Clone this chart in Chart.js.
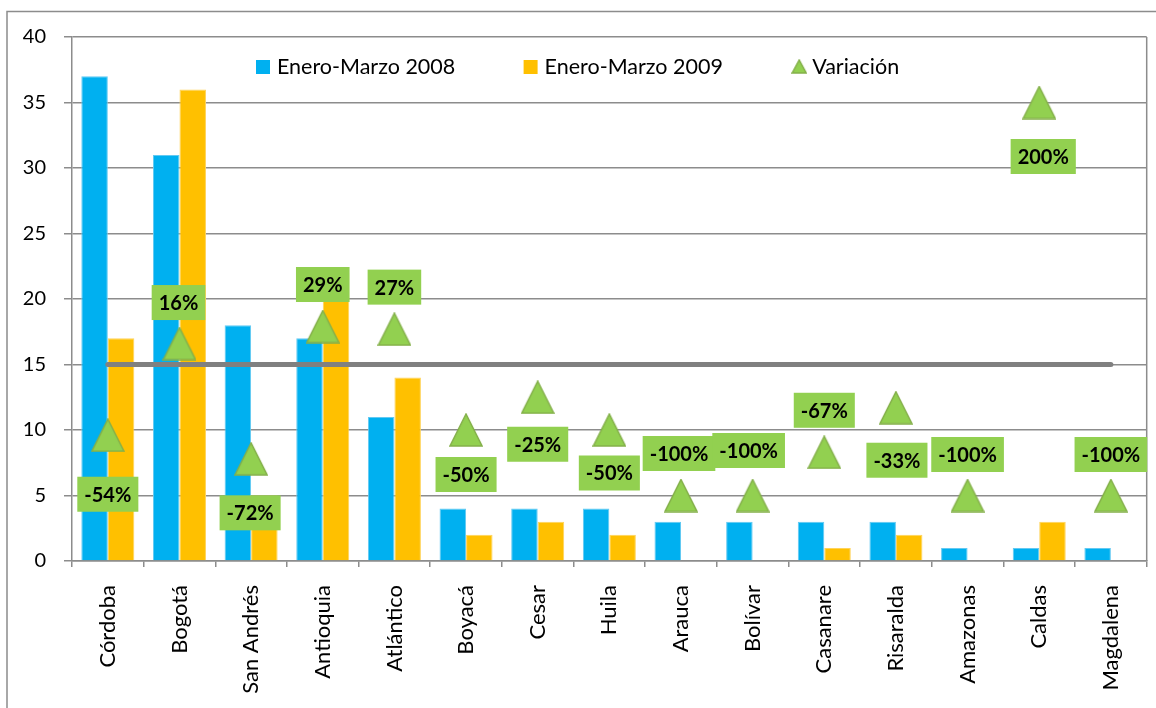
<!DOCTYPE html>
<html>
<head>
<meta charset="utf-8">
<script src="https://cdn.jsdelivr.net/npm/chart.js@4"></script>
<style>
  html, body { margin: 0; padding: 0; background: #ffffff; }
  #wrap { width: 1156px; height: 708px; }
</style>
</head>
<body>
<div id="wrap"><canvas id="c" width="1156" height="708"></canvas></div>
<script>
// ---------- DATA ----------
const categories = ['Córdoba', 'Bogotá', 'San Andrés', 'Antioquia', 'Atlántico', 'Boyacá', 'Cesar', 'Huila', 'Arauca', 'Bolívar', 'Casanare', 'Risaralda', 'Amazonas', 'Caldas', 'Magdalena'];
const seriesNames = ['Enero-Marzo 2008', 'Enero-Marzo 2009', 'Variación'];
const values2008 = [37, 31, 18, 17, 11, 4, 4, 4, 3, 3, 3, 3, 1, 1, 1];
const values2009 = [17, 36, 5, 22, 14, 2, 3, 2, 0, 0, 1, 2, 0, 3, 0];
const variacion = [-54, 16, -72, 29, 27, -50, -25, -50, -100, -100, -67, -33, -100, 200, -100];
const lineaCero = [0, 0, 0, 0, 0, 0, 0, 0, 0, 0, 0, 0, 0, 0, 0];
const yTickValues = [0, 5, 10, 15, 20, 25, 30, 35, 40];

// ---------- STYLE ----------
const BLUE = '#00B0F0', ORANGE = '#FFC000', GREEN = '#92D050', GREEN_EDGE = '#84B04A';
const GRID = '#8c8c8c';
const FONT = 'Lato';

function makeTriangle(w, h) {
  const c = document.createElement('canvas');
  c.width = w; c.height = h;
  const g = c.getContext('2d');
  g.beginPath();
  g.moveTo(w / 2, 1);
  g.lineTo(w - 1, h - 1);
  g.lineTo(1, h - 1);
  g.closePath();
  g.fillStyle = GREEN; g.fill();
  g.strokeStyle = GREEN_EDGE; g.lineWidth = 1.5; g.stroke();
  return c;
}
const triBig = makeTriangle(34, 34);
const triSmall = makeTriangle(16, 15);

// Frame, plot border
const framePlugin = {
  id: 'frame',
  beforeDraw(chart) {
    const ctx = chart.ctx;
    ctx.save();
    ctx.fillStyle = '#fff';
    ctx.fillRect(0, 0, chart.width, chart.height);
    ctx.strokeStyle = GRID; ctx.lineWidth = 1.5;
    ctx.strokeRect(7, 11.5, chart.width + 50, chart.height + 50);
    ctx.restore();
  },
  beforeDatasetsDraw(chart) {
    const a = chart.chartArea, ctx = chart.ctx;
    ctx.save();
    ctx.strokeStyle = GRID; ctx.lineWidth = 1.5;
    ctx.beginPath();
    ctx.moveTo(a.right, a.top); ctx.lineTo(a.right, a.bottom);
    ctx.stroke();
    ctx.restore();
  }
};

// Variation labels
const varLabelPlugin = {
  id: 'varLabels',
  afterDatasetsDraw(chart, args, opts) {
    const meta = chart.getDatasetMeta(opts.datasetIndex);
    const ctx = chart.ctx;
    ctx.save();
    ctx.font = 'bold 20px ' + FONT;
    ctx.textAlign = 'center';
    ctx.textBaseline = 'middle';
    meta.data.forEach((pt, i) => {
      const txt = variacion[i] + '%';
      const off = opts.offsets[i];
      const cx = pt.x + off[0], cy = pt.y + off[1];
      const w = ctx.measureText(txt).width + 14, h = 35;
      ctx.fillStyle = GREEN;
      ctx.fillRect(cx - w / 2, cy - h / 2, w, h);
      ctx.fillStyle = '#000';
      ctx.fillText(txt, cx, cy + 1);
    });
    ctx.restore();
  }
};

// Legend inside plot
const legendPlugin = {
  id: 'innerLegend',
  afterDraw(chart, args, opts) {
    const a = chart.chartArea, ctx = chart.ctx;
    ctx.save();
    ctx.font = '21.5px ' + FONT;
    ctx.textBaseline = 'middle';
    ctx.textAlign = 'left';
    const y = a.top + 30;
    const colors = [BLUE, ORANGE, null];
    seriesNames.forEach((name, i) => {
      const x = a.left + opts.start + i * opts.slot;
      if (colors[i]) {
        ctx.fillStyle = colors[i];
        ctx.fillRect(x, y - 7, 14, 14);
      } else {
        ctx.drawImage(triSmall, x, y - 8, 16, 15);
      }
      ctx.fillStyle = '#000';
      ctx.fillText(name, x + 21, y);
    });
    ctx.restore();
  }
};

new Chart(document.getElementById('c'), {
  data: {
    labels: categories,
    datasets: [
      {
        type: 'line', label: seriesNames[2], data: variacion, yAxisID: 'y2',
        showLine: false, pointStyle: triBig, pointRadius: 17, pointHoverRadius: 17, order: 0
      },
      {
        type: 'line', label: 'ref', data: lineaCero, yAxisID: 'y2',
        borderColor: '#808080', borderWidth: 5, borderCapStyle: 'round', pointRadius: 0, pointHoverRadius: 0, order: 1
      },
      {
        type: 'bar', label: seriesNames[0], data: values2008, yAxisID: 'y',
        backgroundColor: BLUE, borderColor: '#62c9f2', borderWidth: 1, order: 2,
        barPercentage: 1, categoryPercentage: 0.74
      },
      {
        type: 'bar', label: seriesNames[1], data: values2009, yAxisID: 'y',
        backgroundColor: ORANGE, borderColor: '#ffd35a', borderWidth: 1, order: 3,
        barPercentage: 1, categoryPercentage: 0.74
      }
    ]
  },
  options: {
    responsive: false,
    devicePixelRatio: 1,
    animation: false,
    layout: { autoPadding: false, padding: { left: 0, top: 37, right: 9.3, bottom: 0 } },
    plugins: {
      legend: { display: false },
      tooltip: { enabled: false },
      varLabels: {
        datasetIndex: 0,
        offsets: [[0, 59], [-1, -41], [-1, 54], [0, -42], [0, -42], [0, 44.5], [0, 47], [0, 43], [-2, -42], [-4, -45], [0, -42], [1, 52.5], [0, -41], [4, 54], [0, -41]]
      },
      innerLegend: { start: 184, slot: 267.6 }
    },
    scales: {
      x: {
        offset: true,
        grid: { display: true, offset: true, drawOnChartArea: false, drawTicks: true, tickLength: 6, color: GRID, lineWidth: 1.5 },
        border: { color: GRID, width: 1.5 },
        ticks: { maxRotation: 90, minRotation: 90, autoSkip: false, padding: 18, color: '#000', font: { family: FONT, size: 22 } },
        afterFit(s) { s.height = 147; s.paddingLeft = 0; s.paddingRight = 0; }
      },
      y: {
        position: 'left',
        min: 0, max: 40,
        afterBuildTicks(s) { s.ticks = yTickValues.map(v => ({ value: v })); },
        grid: { color: GRID, lineWidth: 1.5, tickLength: 8 },
        border: { color: GRID, width: 1.5 },
        ticks: { color: '#000', padding: 18, font: { family: FONT, size: 20 } },
        afterFit(s) { s.width = 72; s.paddingTop = 0; s.paddingBottom = 0; }
      },
      y2: {
        display: false,
        min: -150, max: 250
      }
    }
  },
  plugins: [framePlugin, varLabelPlugin, legendPlugin]
});
</script>
</body>
</html>
